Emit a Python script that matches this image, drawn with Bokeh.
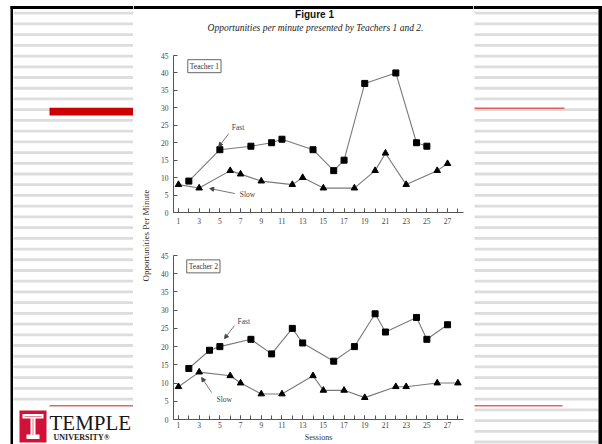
import math
from bokeh.plotting import figure
from bokeh.models import Range1d, FixedTicker, Label, Arrow, NormalHead
from bokeh.layouts import row, column
from bokeh.core.properties import value
from bokeh.embed import file_html
from bokeh.resources import INLINE

SERIF = "Liberation Serif"

# ---------------- data ----------------
sessions_t1_fast = [2, 5, 8, 10, 11, 14, 16, 17, 19, 22, 24, 25]
opps_t1_fast = [9, 18, 19, 20, 21, 18, 12, 15, 37, 40, 20, 19]
sessions_t1_slow = [1, 3, 6, 7, 9, 12, 13, 15, 18, 20, 21, 23, 26, 27]
opps_t1_slow = [8, 7, 12, 11, 9, 8, 10, 7, 7, 12, 17, 8, 12, 14]

sessions_t2_fast = [2, 4, 5, 8, 10, 12, 13, 16, 18, 20, 21, 24, 25, 27]
opps_t2_fast = [14, 19, 20, 22, 18, 25, 21, 16, 20, 29, 24, 28, 22, 26]
sessions_t2_slow = [1, 3, 6, 7, 9, 11, 14, 15, 17, 19, 22, 23, 26, 28]
opps_t2_slow = [9, 13, 12, 10, 7, 7, 12, 8, 8, 6, 9, 9, 10, 10]

y_ticks = [0, 5, 10, 15, 20, 25, 30, 35, 40, 45]
x_label_ticks = [1, 3, 5, 7, 9, 11, 13, 15, 17, 19, 21, 23, 25, 27]
x_minor_ticks = list(range(1, 29))

fig_title = "Figure 1"
fig_subtitle = "Opportunities per minute presented by Teachers 1 and 2."
y_label = "Opportunities Per Minute"
x_label = "Sessions"

W, H = 602, 444


def blank(width, height):
    p = figure(width=width, height=height, x_range=Range1d(0, width),
               y_range=Range1d(height, 0), min_border=0,
               toolbar_location=None, output_backend="svg",
               x_axis_location=None, y_axis_location=None)
    p.grid.visible = False
    p.outline_line_color = None
    p.background_fill_color = "white"
    p.border_fill_color = "white"
    return p


def stripes(p, x0, x1):
    ys = [12.7 + 10.72 * k for k in range(41)]
    p.quad(left=[x0] * len(ys), right=[x1] * len(ys),
           top=[y - 1.4 for y in ys], bottom=[y + 1.4 for y in ys],
           fill_color="#dddddd", line_color=None)


# ---------------- left decoration ----------------
left = blank(133, H)
stripes(left, 13, 133)
left.quad(left=[13], right=[133], top=[407], bottom=[444], fill_color="white", line_color=None)
left.quad(left=[49], right=[133], top=[107.3], bottom=[115], fill_color="#cc0000", line_color=None)
left.quad(left=[49], right=[133], top=[404.5], bottom=[406], fill_color="#e06868", line_color=None)
left.quad(left=[10], right=[133], top=[5.5], bottom=[8.6], fill_color="black", line_color=None)
left.quad(left=[10], right=[12.5], top=[5.5], bottom=[444], fill_color="black", line_color=None)
# logo
left.quad(left=[19], right=[46], top=[410], bottom=[442], fill_color="#d01238", line_color=None)
left.quad(left=[22, 30, 26], right=[43, 35, 39], top=[413.5, 417, 434], bottom=[418, 435, 438.5],
          fill_color="white", line_color=None)
left.quad(left=[24, 32.2], right=[41, 32.8], top=[415.4, 418], bottom=[416.1, 434.5],
          fill_color="#d01238", line_color=None)
left.text(x=[49], y=[410.5], text=["TEMPLE"], text_font=value(SERIF), text_font_size="21px",
          text_color="#151515", text_baseline="top")
left.text(x=[53], y=[432.5], text=["UNIVERSITY®"], text_font=value(SERIF), text_font_size="8px",
          text_color="#222222", text_baseline="top", text_font_style="bold")

# ---------------- right decoration ----------------
right = blank(129, H)
stripes(right, 1, 125)
right.quad(left=[1], right=[91], top=[107], bottom=[108.6], fill_color="#e06060", line_color=None)
right.quad(left=[1], right=[89], top=[404.5], bottom=[406], fill_color="#e06868", line_color=None)
right.quad(left=[0], right=[129], top=[5.5], bottom=[8.6], fill_color="black", line_color=None)
right.quad(left=[125], right=[129], top=[5.5], bottom=[444], fill_color="black", line_color=None)

# ---------------- title ----------------
title = blank(340, 45)
title.quad(left=[0], right=[340], top=[5.5], bottom=[8.6], fill_color="black", line_color=None)
title.text(x=[181], y=[13.5], text=[fig_title], text_font=value("Liberation Sans"),
           text_font_size="10px", text_font_style="bold", text_align="center",
           text_baseline="middle", text_color="#111111")
title.text(x=[182], y=[27.5], text=[fig_subtitle], text_font=value(SERIF),
           text_font_size="9.5px", text_font_style="italic", text_align="center",
           text_baseline="middle", text_color="#222222")

# ---------------- y label strip ----------------
ylab = blank(20, 399)
ylab.add_layout(Label(x=12.5, y=190, text=y_label, angle=math.pi / 2,
                      text_font=SERIF, text_font_size="9px", text_color="#333333",
                      text_align="center", text_baseline="middle"))


# ---------------- charts ----------------
def chart(height, top, bottom, fast_x, fast_y, slow_x, slow_y, box_text, box_xy,
          fast_txt, fast_arrow, slow_txt, slow_arrow, label_standoff):
    c = figure(width=320, height=height, x_range=Range1d(0.52, 28.54), y_range=Range1d(0, 45),
               min_border_left=20, min_border_right=10, min_border_top=top,
               min_border_bottom=bottom, toolbar_location=None, output_backend="svg")
    c.grid.visible = False
    c.outline_line_color = None
    c.background_fill_color = "white"
    c.border_fill_color = "white"
    for ax in (c.xaxis[0], c.yaxis[0]):
        ax.axis_line_color = "#555555"
        ax.major_tick_line_color = "#555555"
        ax.minor_tick_line_color = "#555555"
        ax.major_tick_in = 4
        ax.major_tick_out = 0
        ax.minor_tick_in = 4
        ax.minor_tick_out = 0
        ax.major_label_text_font = SERIF
        ax.major_label_text_font_size = "7.5px"
        ax.major_label_text_color = "#444444"
    c.xaxis.ticker = FixedTicker(ticks=x_label_ticks, minor_ticks=x_minor_ticks)
    c.yaxis.ticker = FixedTicker(ticks=y_ticks)
    c.yaxis.minor_tick_line_color = None
    c.xaxis.major_label_standoff = label_standoff
    c.yaxis.major_label_standoff = 5

    c.line(fast_x, fast_y, line_color="#7a7a7a", line_width=1.1)
    c.scatter(fast_x, fast_y, marker="square", size=6, color="black")
    c.line(slow_x, slow_y, line_color="#7a7a7a", line_width=1.1)
    c.scatter(slow_x, slow_y, marker="triangle", size=6.5, color="black")

    c.add_layout(Label(x=box_xy[0], y=box_xy[1], text=box_text, text_font=SERIF,
                       text_font_size="7.5px", text_color="#333333", text_baseline="top",
                       text_align="left", border_line_color="#666666", border_line_width=1,
                       background_fill_color="white", padding=2))
    c.add_layout(Label(x=fast_txt[0], y=fast_txt[1], text="Fast", text_font=SERIF,
                       text_font_size="7.5px", text_color="#444444", text_baseline="middle"))
    c.add_layout(Label(x=slow_txt[0], y=slow_txt[1], text="Slow", text_font=SERIF,
                       text_font_size="7.5px", text_color="#444444", text_baseline="middle"))
    for a in (fast_arrow, slow_arrow):
        c.add_layout(Arrow(end=NormalHead(size=4, fill_color="#444444", line_color="#444444"),
                           x_start=a[0], y_start=a[1], x_end=a[2], y_end=a[3],
                           line_color="#555555", line_width=0.8))
    return c


c1 = chart(187, 10, 20, sessions_t1_fast, opps_t1_fast, sessions_t1_slow, opps_t1_slow,
           "Teacher 1", (1.9, 43.8), (6.15, 24.4), (5.86, 22.6, 4.89, 18.9),
           (6.93, 5.16), (6.44, 5.44, 4.02, 6.88), 5)
c2 = chart(212, 23, 25, sessions_t2_fast, opps_t2_fast, sessions_t2_slow, opps_t2_slow,
           "Teacher 2", (1.8, 43.8), (6.7, 26.8), (6.41, 25.75, 5.45, 22.2),
           (4.68, 5.48), (4.2, 7.4, 3.24, 11.5), 2)
c2.xaxis.axis_label = x_label
c2.xaxis.axis_label_text_font = SERIF
c2.xaxis.axis_label_text_font_size = "8px"
c2.xaxis.axis_label_text_font_style = "normal"
c2.xaxis.axis_label_text_color = "#333333"
c2.xaxis.axis_label_standoff = 2

center = column(title, row(ylab, column(c1, c2)))
layout = row(left, center, right)

open("out.html", "w").write(file_html(layout, INLINE))
